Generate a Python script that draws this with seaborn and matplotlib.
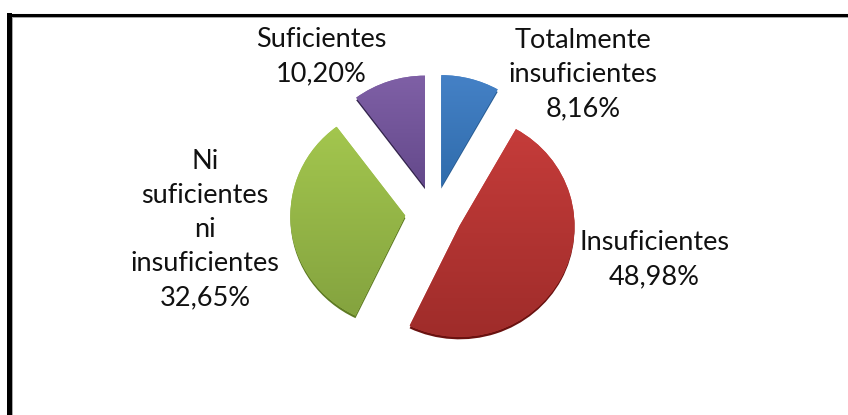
import numpy as np
import matplotlib
matplotlib.use("Agg")
import matplotlib.pyplot as plt
from matplotlib.colors import LinearSegmentedColormap
import seaborn as sns

categorias = ["Totalmente\ninsuficientes", "Insuficientes", "Ni\nsuficientes\nni\ninsuficientes", "Suficientes"]
valores = [8.16, 48.98, 32.65, 10.20]
separacion = [0.25, 0.25, 0.25, 0.25]
claros = ["#4581C6", "#C53C3A", "#A3C64E", "#7F60A6"]
oscuros = ["#2F6CAC", "#9F2C2A", "#84A33F", "#64498B"]
bordes = ["#2A5F96", "#6A1210", "#5E7A24", "#35264F"]

W, H = 848, 415
CX, CY, RX, RY = 434, 213, 115, 111
LEFT, TOP = 8.5, 15.5
RIM = 2.5 / RY
TXT_POS = [(583, 75), (654.5, 260), (205, 229.5), (321, 57)]

sns.set_theme(style="white")
plt.rcParams["font.family"] = ["Lato", "DejaVu Sans"]

fig = plt.figure(figsize=(W / 100, H / 100), dpi=100)
ax = fig.add_axes([LEFT / W, 0, (W - LEFT) / W, (H - TOP) / H])

ax.pie(valores, explode=separacion, startangle=90, counterclock=False, radius=1,
       center=(0, -RIM), colors=sns.color_palette(bordes), wedgeprops={"linewidth": 0})
wedges, _ = ax.pie(valores, explode=separacion, startangle=90, counterclock=False, radius=1,
                   colors=sns.color_palette(claros), wedgeprops={"linewidth": 0})

grad = np.linspace(0, 1, 256).reshape(-1, 1)
for w, c1, c2 in zip(wedges, claros, oscuros):
    cmap = LinearSegmentedColormap.from_list("g", [c1, c2])
    t, r = w.center
    th = np.radians(np.linspace(w.theta1, w.theta2, 60))
    xs = np.r_[t, t + w.r * np.cos(th)]
    ys = np.r_[r, r + w.r * np.sin(th)]
    im = ax.imshow(grad, cmap=cmap, extent=(xs.min(), xs.max(), ys.min(), ys.max()),
                   origin="upper", aspect="auto", zorder=3, interpolation="bilinear")
    im.set_clip_path(w)

ax.set_aspect("auto")
ax.set_xlim((LEFT - CX) / RX, (W - CX) / RX)
ax.set_ylim((CY - H) / RY, (CY - TOP) / RY)
ax.set_frame_on(True)
ax.set_xticks([])
ax.set_yticks([])
for s in ("right", "bottom"):
    ax.spines[s].set_visible(False)
ax.spines["left"].set(visible=True, color="black", linewidth=3.6)
ax.spines["top"].set(visible=True, color="black", linewidth=2.2)
ax.axvline((11.5 - CX) / RX, color="#A8A8A8", linewidth=0.72, zorder=1)
ax.axhline((CY - 17.5) / RY, color="#A8A8A8", linewidth=0.72, zorder=1)

for cat, val, (x, y) in zip(categorias, valores, TXT_POS):
    fig.text(x / W, 1 - y / H, f"{cat}\n{val:.2f}%".replace(".", ","),
             ha="center", va="center", ma="center", fontsize=19.5, color="#111111", linespacing=1.46)

fig.savefig("out.png", dpi=100)
